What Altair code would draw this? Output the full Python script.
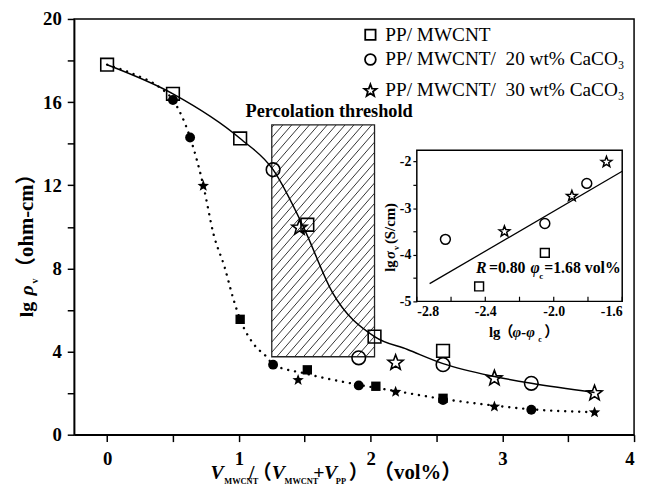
import math
import altair as alt
import pandas as pd

FONT = "Liberation Serif"
CJK = "Liberation Serif, Noto Sans CJK SC"
W, H = 567, 421

# ---------------- main chart data ----------------
x_dom = [-0.25, 4.0]
y_dom = [0, 20]
x_ticks = [0, 0.5, 1, 1.5, 2, 2.5, 3, 3.5, 4]
y_ticks = [0, 2, 4, 6, 8, 10, 12, 14, 16, 18, 20]

# open markers
sq_x = [0, 0.5, 1.01, 1.52, 2.03, 2.55]
sq_y = [17.8, 16.4, 14.25, 10.1, 4.72, 4.03]
ci_x = [1.26, 1.91, 2.55, 3.22]
ci_y = [12.75, 3.7, 3.37, 2.47]
st_x = [1.46, 2.19, 2.94, 3.70]
st_y = [10.0, 3.5, 2.75, 2.03]
# filled markers
fsq_x = [1.01, 1.52, 2.04, 2.55]
fsq_y = [5.55, 3.12, 2.33, 1.75]
fci_x = [0.5, 0.63, 1.26, 1.91, 2.55, 3.22]
fci_y = [16.1, 14.3, 3.37, 2.37, 1.67, 1.2]
fst_x = [0.73, 1.45, 2.19, 2.94, 3.70]
fst_y = [12.0, 2.66, 2.09, 1.38, 1.1]

# fitted curves
sol_x = [0, 0.5, 1.01, 1.26, 1.49, 1.71, 2.03, 2.28, 2.55, 2.94, 3.22, 3.70]
sol_y = [17.8, 16.4, 14.25, 12.75, 10.0, 6.85, 4.72, 4.1, 3.42, 2.8, 2.47, 2.03]
dot_x = [0, 0.2, 0.4, 0.5, 0.63, 0.73, 0.81, 0.89, 0.96, 1.01, 1.12, 1.21, 1.26,
         1.5, 1.91, 2.19, 2.55, 2.94, 3.22, 3.70]
dot_y = [17.8, 17.35, 16.7, 16.1, 14.3, 12.0, 9.6, 8.1, 6.5, 5.55, 4.3, 3.75, 3.38,
         2.95, 2.4, 2.1, 1.72, 1.4, 1.22, 1.08]

# percolation threshold band
band_x = [1.25, 2.03]
band_y = [3.75, 14.9]

# ---------------- inset data ----------------
in_x_dom = [-2.8, -1.6]
in_y_dom = [-5.0, -1.76]
in_x_ticks = [-2.8, -2.6, -2.4, -2.2, -2.0, -1.8, -1.6]
in_y_ticks = [-5, -4.5, -4, -3.5, -3, -2.5, -2]
in_ci_x = [-2.633, -2.052, -1.807]
in_ci_y = [-3.67, -3.33, -2.47]
in_st_x = [-2.288, -1.894, -1.692]
in_st_y = [-3.49, -2.73, -2.0]
in_sq_x = [-2.436, -2.052]
in_sq_y = [-4.68, -3.96]
fit_x = [-2.725, -1.6]
fit_y = [-4.62, -2.21]

# five-pointed star symbol path (unit box)
_pts = []
for k in range(10):
    a = math.radians(-90 + 36 * k)
    r = 1.0 if k % 2 == 0 else 0.42
    _pts.append(f"{r * math.cos(a):.3f},{r * math.sin(a) + 0.1:.3f}")
STAR = "M" + "L".join(_pts) + "Z"

# ---------------- scales / axes ----------------
sx = alt.Scale(domain=x_dom, nice=False, zero=False)
sy = alt.Scale(domain=y_dom, nice=False, zero=False)
ax_common = dict(labelFont=FONT, labelFontWeight="bold", labelColor="black",
                 domainColor="black", tickColor="black", domainWidth=1.5,
                 tickWidth=1.5, grid=False, title=None)
xaxis = alt.Axis(orient="bottom", values=x_ticks,
                 labelExpr="datum.value % 1 == 0 ? '' + datum.value : ''",
                 labelFontSize=19, tickSize=7, labelPadding=8, **ax_common)
yaxis = alt.Axis(orient="left", values=y_ticks,
                 labelExpr="datum.value % 4 == 0 ? '' + datum.value : ''",
                 labelFontSize=19, tickSize=7, labelPadding=6, **ax_common)

X = lambda f="x": alt.X(f"{f}:Q", scale=sx, axis=xaxis)
Y = lambda f="y": alt.Y(f"{f}:Q", scale=sy, axis=yaxis)


def pts(xs, ys, shape, size, filled, sw=1.6):
    df = pd.DataFrame({"x": xs, "y": ys})
    return alt.Chart(df).mark_point(shape=shape, size=size, filled=filled, color="black",
                                    strokeWidth=sw, opacity=1).encode(x=X(), y=Y())


def txt(text, x, y, size, italic=False, bold=True, angle=0, align="left",
        baseline="alphabetic", font=FONT):
    kw = dict(fontSize=size, font=font, align=align, baseline=baseline, color="black",
              fontWeight="bold" if bold else "normal",
              fontStyle="italic" if italic else "normal")
    if angle:
        kw["angle"] = angle
    return alt.Chart(pd.DataFrame({"t": [text]})).mark_text(**kw).encode(
        x=alt.value(x), y=alt.value(y), text="t:N")


# hatch lines for the percolation band (style only)
kx = W / (x_dom[1] - x_dom[0])
ky = H / (y_dom[1] - y_dom[0])
X1, X2 = band_x[0] * kx, band_x[1] * kx
Y1, Y2 = band_y[0] * ky, band_y[1] * ky
slope, gap = 1.15, 9.0
hx, hx2, hy, hy2 = [], [], [], []
c = Y1 - slope * X2
while c < Y2 - slope * X1:
    xa = max(X1, (Y1 - c) / slope)
    xb = min(X2, (Y2 - c) / slope)
    if xb > xa:
        hx.append(xa / kx); hx2.append(xb / kx)
        hy.append((slope * xa + c) / ky); hy2.append((slope * xb + c) / ky)
    c += slope * gap

band_df = pd.DataFrame({"x": [band_x[0]], "x2": [band_x[1]], "y": [band_y[0]], "y2": [band_y[1]]})
band_fill = alt.Chart(band_df).mark_rect(fill="white").encode(x=X(), x2="x2", y=Y(), y2="y2")
hatch = alt.Chart(pd.DataFrame({"x": hx, "x2": hx2, "y": hy, "y2": hy2})).mark_rule(
    color="#333333", strokeWidth=1).encode(x=X(), x2="x2", y=Y(), y2="y2")
band_edge = alt.Chart(band_df).mark_rect(fill=None, stroke="#222222", strokeWidth=1.3).encode(
    x=X(), x2="x2", y=Y(), y2="y2")

solid = alt.Chart(pd.DataFrame({"x": sol_x, "y": sol_y})).mark_line(
    color="black", strokeWidth=1.5, interpolate="monotone").encode(x=X(), y=Y())
dotted = alt.Chart(pd.DataFrame({"x": dot_x, "y": dot_y})).mark_line(
    color="black", strokeWidth=2.4, strokeDash=[0.1, 7], strokeCap="round",
    interpolate="monotone").encode(x=X(), y=Y())

perc = alt.Chart(pd.DataFrame({"x": [1.685], "y": [15.55], "t": ["Percolation threshold"]})).mark_text(
    font=FONT, fontSize=18.5, fontWeight="bold", color="black", align="center", baseline="middle"
).encode(x=X(), y=Y(), text="t:N")

main_layers = [
    band_fill, hatch, band_edge, dotted, solid,
    pts(fsq_x, fsq_y, "square", 90, True),
    pts(fci_x, fci_y, "circle", 100, True),
    pts(fst_x, fst_y, STAR, 150, True),
    pts(sq_x, sq_y, "square", 165, False),
    pts(ci_x, ci_y, "circle", 190, False),
    pts(st_x, st_y, STAR, 260, False),
    perc,
]

# legend (manual)
NB = "\u00a0"
leg_shapes = ["square", "circle", STAR]
leg_sizes = [110, 120, 170]
leg_labels = ["PP/ MWCNT",
              f"PP/ MWCNT/{NB} 20 wt% CaCO₃",
              f"PP/ MWCNT/{NB} 30 wt% CaCO₃"]
leg_rows = [16, 41, 72]
for shp, sz, lab, ry in zip(leg_shapes, leg_sizes, leg_labels, leg_rows):
    main_layers.append(
        alt.Chart(pd.DataFrame({"a": [0]})).mark_point(shape=shp, size=sz, filled=False, color="black",
                                                       strokeWidth=1.8, opacity=1)
        .encode(x=alt.value(300), y=alt.value(ry)))
    main_layers.append(txt(lab, 315, ry, 19.5, bold=False, baseline="middle"))

# x-axis title pieces
xb, xs_b = 466, 471
main_layers += [
    txt("V", 138, xb, 20, italic=True),
    txt("MWCNT", 152, xs_b, 8.5),
    txt("/", 177, xb, 20),
    txt("（", 180, xb, 20, font=CJK),
    txt("V", 200, xb, 20, italic=True),
    txt("MWCNT", 213, xs_b, 8.5),
    txt("+", 242, xb, 20),
    txt("V", 253, xb, 20, italic=True),
    txt("PP", 265, xs_b, 8.5),
    txt("）", 278, xb, 20, font=CJK),
    txt("（vol%）", 303, xb, 21, font=CJK),
]
# y-axis title pieces (rotated)
main_layers += [
    txt("lg ", -42, 302, 20, angle=270),
    txt("ρ", -42, 280, 20, italic=True, angle=270),
    txt("v", -37, 268, 10, angle=270),
    txt("（ohm-cm）", -42, 262, 21, angle=270, font=CJK),
]

main = alt.layer(*main_layers)

# ---------------- inset ----------------
isx = alt.Scale(domain=in_x_dom, range=[347, 555], nice=False, zero=False)
isy = alt.Scale(domain=in_y_dom, range=[286, 133], nice=False, zero=False)
in_common = dict(labelFont=FONT, labelFontWeight="bold", labelColor="black", labelFontSize=14,
                 tickColor="black", tickWidth=1.2, grid=False, title=None, domain=False)
in_xaxis = alt.Axis(orient="bottom", offset=-(H - 286), values=in_x_ticks, ticks=False,
                    labelPadding=3,
                    labelExpr="abs(round(datum.value*10)) % 4 == 0 ? replace(format(datum.value, '.1f'), '\u2212', '-') : ''",
                    **in_common)
in_yaxis = alt.Axis(orient="left", offset=-347, values=in_y_ticks, tickSize=4, labelPadding=2,
                    labelExpr="datum.value % 1 == 0 ? '' + datum.value : ''", **in_common)
IX = lambda f="x": alt.X(f"{f}:Q", scale=isx, axis=in_xaxis)
IY = lambda f="y": alt.Y(f"{f}:Q", scale=isy, axis=in_yaxis)

frame_df = pd.DataFrame({"x": [in_x_dom[0]], "x2": [in_x_dom[1]], "y": [in_y_dom[0]], "y2": [in_y_dom[1]]})
in_frame = alt.Chart(frame_df).mark_rect(fill="white", stroke="black", strokeWidth=1.5).encode(
    x=IX(), x2="x2", y=IY(), y2="y2")
in_ticks = alt.Chart(pd.DataFrame({"x": in_x_ticks, "y": [in_y_dom[0]] * len(in_x_ticks),
                                   "y2": [in_y_dom[0] + 0.1] * len(in_x_ticks)})).mark_rule(
    color="black", strokeWidth=1.2).encode(x=IX(), y=IY(), y2="y2")
in_fit = alt.Chart(pd.DataFrame({"x": fit_x, "y": fit_y})).mark_line(color="black", strokeWidth=1.3).encode(
    x=IX(), y=IY())


def ipts(xs, ys, shape, size):
    return alt.Chart(pd.DataFrame({"x": xs, "y": ys})).mark_point(
        shape=shape, size=size, filled=False, color="black", strokeWidth=1.5, opacity=1).encode(x=IX(), y=IY())


inset_layers = [
    in_frame, in_ticks, in_fit,
    ipts(in_ci_x, in_ci_y, "circle", 100),
    ipts(in_st_x, in_st_y, STAR, 130),
    ipts(in_sq_x, in_sq_y, "square", 80),
    # annotation
    txt("R", 407, 257, 16, italic=True),
    txt("=0.80", 420, 257, 16),
    txt("φ", 462, 257, 16, italic=True),
    txt("c", 471, 263, 9),
    txt("=1.68 vol%", 476, 257, 16),
    # inset x title
    txt("lg", 420, 322, 15),
    txt("（", 430, 322, 15, font=CJK),
    txt("φ-φ", 444, 322, 15, italic=True),
    txt("c", 470, 327, 8),
    txt("）", 476, 322, 15, font=CJK),
    # inset y title (rotated)
    txt("lg", 325, 256, 15, angle=270),
    txt("σ", 325, 243, 15, italic=True, angle=270),
    txt("v", 329, 234, 8, angle=270),
    txt("(S/cm)", 325, 228, 15, angle=270),
]
inset = alt.layer(*inset_layers)

chart = alt.layer(main, inset).resolve_scale(x="independent", y="independent").properties(
    width=W, height=H,
    autosize=alt.AutoSizeParams(type="none"),
    padding={"left": 67, "top": 8, "right": 5, "bottom": 60},
).configure_view(stroke="black", strokeWidth=1.5)

chart.save("out.html", embed_options={"renderer": "svg", "actions": False})
